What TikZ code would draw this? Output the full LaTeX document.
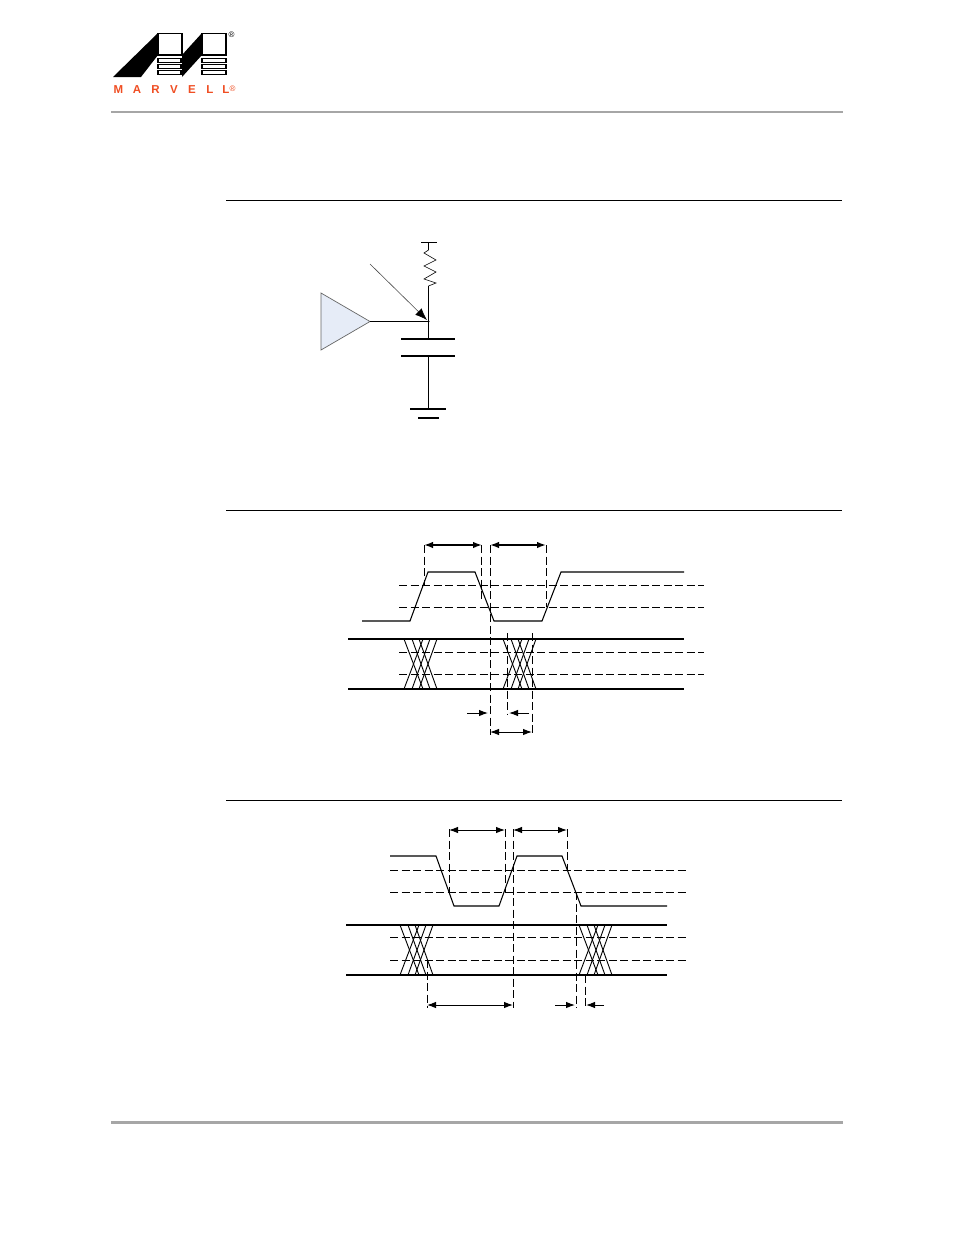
\documentclass[tikz,border=0pt]{standalone}
\usepackage{fontspec}
\setmainfont{Liberation Sans}
\usetikzlibrary{arrows.meta}
\definecolor{mred}{HTML}{F04E23}
\definecolor{tri}{HTML}{E6ECF7}
\tikzset{
  wire/.style={line width=1.05pt,black},
  pagerule/.style={line width=0.8pt,black},
  grule/.style={line width=2pt,black!35},
  dashline/.style={line width=1pt,black,dash pattern=on 8pt off 3.5pt},
  bothways/.style={line width=1pt,{Latex[length=9pt,width=6.5pt]}-{Latex[length=9pt,width=6.5pt]}},
  oneway/.style={line width=1pt,-{Latex[length=9pt,width=6.5pt]}},
  lg/.style={inner sep=0pt,font=\bfseries\fontsize{11.5}{11.5}\selectfont,text=mred}
}
\newcommand{\eyecross}[3]{% x offset, top y, bottom y
  \foreach \a/\b in {0/19,8/26,15/33}{
    \draw[wire,line width=0.9pt] (#1+\a,#2) -- (#1+\b,#3);
    \draw[wire,line width=0.9pt] (#1+\a,#3) -- (#1+\b,#2);
  }}
\begin{document}
\begin{tikzpicture}[x=1pt,y=-1pt]
\useasboundingbox (0,0) rectangle (954,1235);
\fill[white] (0,0) rectangle (954,1235);
% logo
\fill (113,77) -- (158,33) -- (158,55) -- (141,77) -- cycle;
\fill (182,55) -- (202,33) -- (202,55) -- (182,77) -- cycle;
\draw[line width=1.1pt] (158,33.5) rectangle (182,55);
\draw[line width=1.1pt] (202,33.5) rectangle (226,55);
\foreach \y in {58.5,64.5,70.5}{
  \draw[line width=1.1pt] (158,\y) rectangle (181,\y+4);
  \draw[line width=1.1pt] (202,\y) rectangle (226,\y+4);
}
\node[lg] (m1) at (118.5,90) {M};
\node[lg] (m2) at (137,90) {A};
\node[lg] (m3) at (155.5,90) {R};
\node[lg] (m4) at (174,90) {V};
\node[lg] (m5) at (192,90) {E};
\node[lg] (m6) at (210,90) {L};
\node[lg] (m7) at (226,90) {L};
\node[inner sep=0pt,font=\fontsize{8}{8}\selectfont,text=mred] (m8) at (232.5,88.5) {®};
\node[inner sep=0pt,font=\fontsize{8}{8}\selectfont] (m9) at (231.5,35) {®};
% page rules
\draw[grule] (111,112) -- (843,112);
\draw[grule,line width=3pt] (111,1122) -- (843,1122);
\draw[pagerule] (226,200.5) -- (842,200.5);
\draw[pagerule] (226,510.5) -- (842,510.5);
\draw[pagerule] (226,800.5) -- (842,800.5);
% circuit
\draw[black!60,line width=0.7pt,fill=tri] (321,293) -- (370,321.5) -- (321,350) -- cycle;
\draw[wire] (370,321.5) -- (428.5,321.5);
\draw[wire,line width=0.8pt] (421,242) -- (437,242);
\draw[wire,line width=0.6pt] (428.5,242) -- (428.5,250) -- (424,253) -- (436,260) -- (424,266) -- (436,272) -- (424,279) -- (436,283) -- (428.5,286);
\draw[wire] (428.5,286) -- (428.5,339);
\draw[wire,line width=1.8pt] (401,339) -- (455,339);
\draw[wire] (401,356) -- (455,356);
\draw[wire] (428.5,356) -- (428.5,409);
\draw[wire,line width=1.8pt] (410,409) -- (446,409);
\draw[wire,line width=1.8pt] (418,418) -- (439,418);
\fill (428.5,321.5) circle (1.2pt);
\draw[black!70,line width=0.6pt,-{Latex[length=12pt,width=9pt,black]}] (370,264) -- (427,320);
% timing 1
\foreach \y in {585,607,652,674}{\draw[dashline] (399,\y) -- (704,\y);}
\draw[wire] (362,621) -- (410,621) -- (428,572) -- (475,572) -- (494,621) -- (542,621) -- (561,572) -- (684,572);
\draw[wire] (348,639) -- (684,639);
\draw[wire] (348,689) -- (684,689);
\eyecross{404}{639}{689}
\eyecross{503}{639}{689}
\draw[dashline] (424,545) -- (424,585);
\draw[dashline] (481.5,545) -- (481.5,600);
\draw[dashline] (490,545) -- (490,735);
\draw[dashline] (546,545) -- (546,607);
\draw[dashline] (507.5,633) -- (507.5,715);
\draw[dashline] (532,633) -- (532,735);
\draw[bothways,line width=1.5pt] (424,545) -- (482,545);
\draw[bothways,line width=1.5pt] (490,545) -- (546,545);
\draw[oneway] (467,713) -- (488,713);
\draw[oneway] (529,713) -- (509,713);
\draw[bothways] (490,732) -- (532,732);
% timing 2
\foreach \y in {870,892,937,960}{\draw[dashline] (390,\y) -- (686,\y);}
\draw[wire] (390,856) -- (436,856) -- (454,906) -- (499,906) -- (517,856) -- (562,856) -- (581,906) -- (667,906);
\draw[wire] (346,925) -- (667,925);
\draw[wire] (346,975) -- (667,975);
\eyecross{400}{925}{975}
\eyecross{579}{925}{975}
\draw[dashline] (449,829) -- (449,892);
\draw[dashline] (505,829) -- (505,892);
\draw[dashline] (513,829) -- (513,1008);
\draw[dashline] (567,829) -- (567,870);
\draw[dashline] (427,960) -- (427,1008);
\draw[dashline] (576,892) -- (576,1008);
\draw[dashline] (585,975) -- (585,1008);
\draw[bothways] (449,830) -- (505,830);
\draw[bothways] (513,830) -- (567,830);
\draw[bothways] (427,1005) -- (513,1005);
\draw[oneway] (555,1005) -- (575,1005);
\draw[oneway] (604,1005) -- (586,1005);
\end{tikzpicture}
\end{document}
